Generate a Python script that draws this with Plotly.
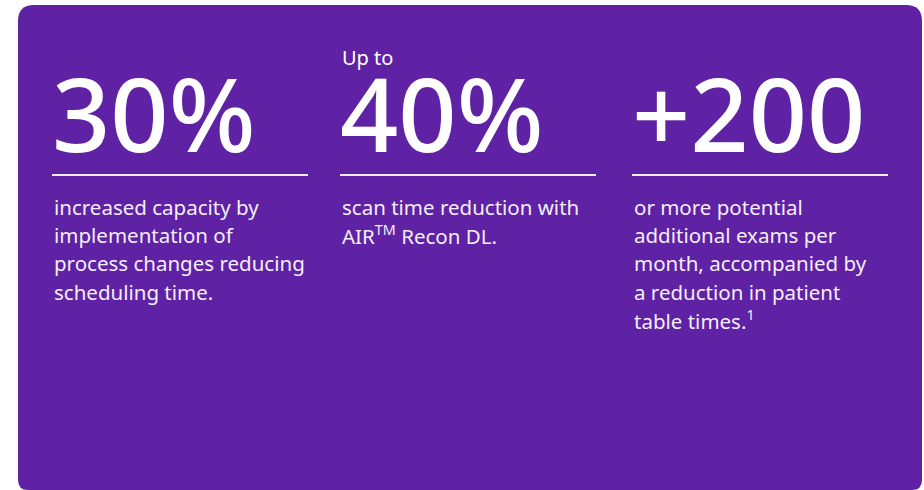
import plotly.graph_objects as go

# ---- content ----
prefixes = ["", "Up to", ""]
stats = ["30%", "40%", "+200"]
descriptions = [
    ["increased capacity by", "implementation of", "process changes reducing", "scheduling time."],
    ["scan time reduction with", "AIR<sup>TM</sup> Recon DL."],
    ["or more potential", "additional exams per", "month, accompanied by",
     "a reduction in patient", "table times.<sup>1</sup>"],
]

# ---- layout constants ----
W, H = 924, 490
BG = "#5F22A4"
FONT = "Noto Sans"
col_x = [52, 340, 632]
col_w = 256
rule_y = 175

fig = go.Figure()

# rounded panel
x0, y0, x1, y1 = 18, 5, 922, 490
rt, rb = 16, 10
path = (f"M {x0+rt},{y0} L {x1-rt},{y0} Q {x1},{y0} {x1},{y0+rt} "
        f"L {x1},{y1-rb} Q {x1},{y1} {x1-rb},{y1} "
        f"L {x0+rb},{y1} Q {x0},{y1} {x0},{y1-rb} "
        f"L {x0},{y0+rt} Q {x0},{y0} {x0+rt},{y0} Z")
fig.add_shape(type="path", path=path, xref="x", yref="y",
              fillcolor=BG, line=dict(width=0), layer="below")

for i, (pre, st, desc) in enumerate(zip(prefixes, stats, descriptions)):
    cx = col_x[i]
    fig.add_shape(type="line", xref="x", yref="y", x0=cx, x1=cx + col_w,
                  y0=rule_y, y1=rule_y, line=dict(color="rgba(255,255,255,0.92)", width=2))
    if pre:
        fig.add_annotation(x=cx, y=57, xref="x", yref="y", text=pre, showarrow=False,
                           xanchor="left", yanchor="middle",
                           font=dict(family=FONT, size=20, color="white"))
    fig.add_annotation(x=cx - 2, y=112, xref="x", yref="y", text=st, showarrow=False,
                       xanchor="left", yanchor="middle",
                       font=dict(family=FONT, size=102, color="white", weight=500))
    for j, line in enumerate(desc):
        fig.add_annotation(x=cx, y=207 + 28.2 * j, xref="x", yref="y", text=line,
                           showarrow=False, xanchor="left", yanchor="middle",
                           font=dict(family=FONT, size=20.5, color="#F4EEF8"))

fig.update_layout(
    width=W, height=H, margin=dict(l=0, r=0, t=0, b=0),
    paper_bgcolor="white", plot_bgcolor="white", showlegend=False,
    xaxis=dict(range=[0, W], visible=False, fixedrange=True),
    yaxis=dict(range=[H, 0], visible=False, fixedrange=True),
)
fig.write_html("out.html", config={"displayModeBar": False},
               post_script="document.body.style.margin='0px';document.body.style.overflow='hidden';")
